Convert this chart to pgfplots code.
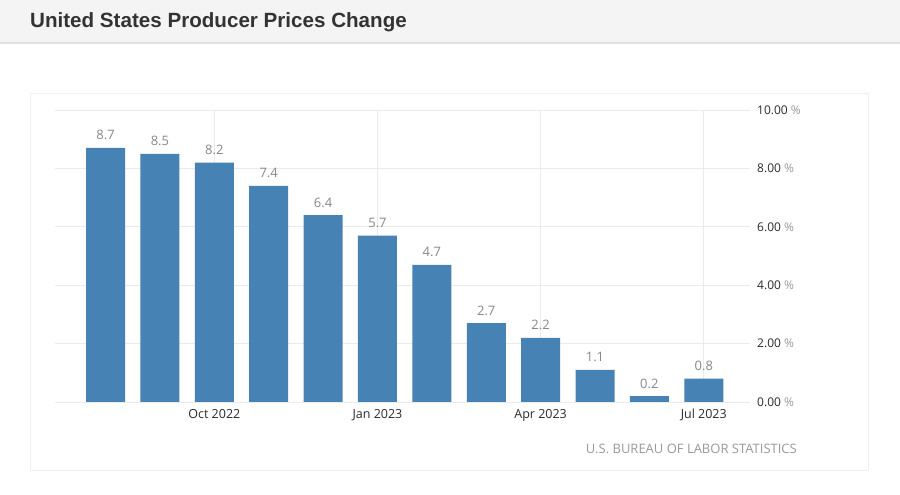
\documentclass[border=0pt]{standalone}
\usepackage{fontspec}
\setmainfont{Open Sans}
\newfontfamily\titlefont{Liberation Sans}
\usepackage{pgfplots}
\pgfplotsset{compat=1.18}

\definecolor{barblue}{HTML}{4682B4}
\definecolor{headgray}{HTML}{F4F4F4}
\definecolor{headline}{HTML}{E2E2E2}
\definecolor{titlegray}{HTML}{333333}
\definecolor{gridgray}{HTML}{EBEBEB}
\definecolor{panelgray}{HTML}{F0F0F0}
\definecolor{valgray}{HTML}{888888}
\definecolor{srcgray}{HTML}{999999}
\definecolor{ticktext}{HTML}{2B2B2B}

\begin{document}
\begin{tikzpicture}
% page frame 900 x 495, 1pt = 1px
\path[fill=white, use as bounding box] (0,0) rectangle (900pt,495pt);
\fill[headgray] (0,453pt) rectangle (900pt,495pt);
\fill[headline] (0,451pt) rectangle (900pt,453pt);
\node[anchor=base west, inner sep=0pt, text=titlegray,
      font=\titlefont\bfseries\fontsize{20.6}{24}\selectfont] at (30pt,467.5pt)
      {United States Producer Prices Change};
\draw[panelgray, line width=0.8pt] (30pt,25pt) rectangle (868pt,402pt);

\begin{axis}[
    at={(55pt,93pt)}, anchor=south west,
    width=695pt, height=292pt, scale only axis,
    xmin=-0.93, xmax=11.85, ymin=0, ymax=10,
    ybar, bar width=39pt,
    axis line style={draw=none},
    major tick length=0pt,
    grid=major,
    major grid style={gridgray, line width=0.8pt},
    xtick={2,5,8,11},
    xticklabels={Oct 2022, Jan 2023, Apr 2023, Jul 2023},
    ytick={0,2,4,6,8,10},
    yticklabel pos=right,
    /pgf/number format/assume math mode=true,
    yticklabel={\pgfmathprintnumber[fixed,fixed zerofill,precision=2]{\tick}\ {\color{srcgray}\%}},
    xticklabel style={anchor=base, inner sep=0pt, yshift=-17pt,
        font=\fontsize{12.5}{15}\selectfont, text=ticktext},
    yticklabel style={anchor=west, inner sep=0pt, xshift=7pt,
        font=\fontsize{12}{15}\selectfont, text=ticktext},
    nodes near coords={\pgfmathprintnumber[fixed,fixed zerofill,precision=1,assume math mode=true]{\pgfplotspointmeta}},
    nodes near coords style={anchor=base, inner sep=0pt, yshift=8pt,
        font=\fontsize{13}{15}\selectfont, text=valgray},
    clip=false,
]
\addplot[fill=barblue, draw=none] coordinates {
    (0,8.7) (1,8.5) (2,8.2) (3,7.4) (4,6.4) (5,5.7)
    (6,4.7) (7,2.7) (8,2.2) (9,1.1) (10,0.2) (11,0.8)
};
\end{axis}

\node[anchor=east, inner sep=0pt, text=srcgray,
      font=\fontsize{13}{15}\selectfont] at (797pt,46pt)
      {U.S. BUREAU OF LABOR STATISTICS};
\end{tikzpicture}
\end{document}
